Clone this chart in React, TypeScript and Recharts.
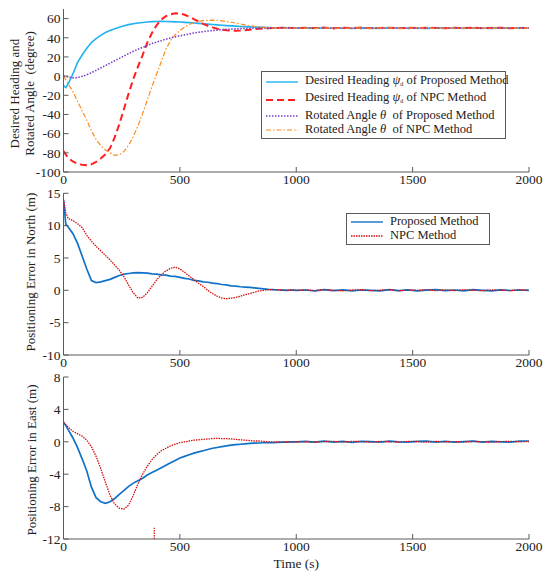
import { Legend, Line, LineChart, ReferenceLine, XAxis, YAxis } from "recharts";

const FONT = '"Liberation Serif", "Times New Roman", Times, serif';
const AXIS = "#5a5a5a";
const INK = "#222";

const COLORS = {
  cyan: "#22b2f0",
  red: "#ff1f1f",
  purple: "#7a3fc8",
  orange: "#ff8a1c",
  blue: "#1071c8",
  darkRed: "#d40f0f",
};

// time stamps (s): finer at the start, coarser once everything has settled
const TIME = [
  0, 10, 20, 40, 60, 80, 100, 120, 140, 160, 180, 200, 220, 240, 260, 280, 300, 320, 340, 360,
  380, 400, 420, 440, 460, 480, 500, 520, 540, 560, 580, 600, 620, 640, 660, 680, 700, 720, 740,
  760, 780, 800, 820, 840, 860, 880, 900, 920, 940, 960, 980, 1000,
  1040, 1080, 1120, 1160, 1200, 1240, 1280, 1320, 1360, 1400, 1440, 1480, 1520, 1560, 1600,
  1640, 1680, 1720, 1760, 1800, 1840, 1880, 1920, 1960, 2000,
];

const HEADING_PROPOSED = [
  -10, -12, -8, 2, 14, 22, 29, 35, 39, 42.5, 45.5, 47.5, 49.5, 51, 52.5, 53.7, 54.7, 55.4, 56, 56.5,
  56.8, 57, 57.1, 57, 56.8, 56.6, 56.4, 56.1, 55.8, 55.4, 55, 54.6, 54.2, 53.8, 53.4, 53, 52.7, 52.4, 52.1,
  51.8, 51.6, 51.4, 51.2, 51, 50.8, 50.7, 50.5, 50.4, 50.3, 50.2, 50.1, 50.1,
  50.3, 49.8, 50.4, 49.9, 50.2, 49.7, 50.3, 50, 49.8, 50.4, 49.9, 50.2, 50, 49.7, 50.3,
  49.9, 50.2, 49.8, 50.4, 50, 49.8, 50.3, 49.9, 50.2, 50,
];

const HEADING_NPC = [
  -78, -82, -85, -89, -91.5, -92.5, -93, -92, -89.5, -86, -81.5, -75, -64, -50, -34, -18, -3, 10, 22, 35,
  45, 53, 59, 62.5, 64.5, 65.5, 65.3, 64, 62, 59.5, 57, 54.5, 52.5, 50.8, 49.5, 48.5, 47.8, 47.4, 47.3,
  47.5, 47.9, 48.4, 48.9, 49.3, 49.6, 49.9, 50.1, 50.3, 50.4, 50.4, 50.3, 50.2,
  50.5, 50.1, 50.6, 49.9, 50.4, 50.2, 50.6, 49.9, 50.3, 50.5, 50, 50.4, 50.1, 50.5, 50.2,
  49.9, 50.4, 50.1, 50.5, 50, 50.3, 50.4, 49.9, 50.3, 50.1,
];

const ROTATED_PROPOSED = [
  0, -0.5, -1, -1.8, -1.5, -0.2, 1.5, 3.5, 6, 8.5, 11, 13.5, 16, 18.5, 21, 23.5, 26, 28, 30, 32,
  34, 35.5, 37, 38.5, 39.8, 41, 42, 43, 44, 44.9, 45.7, 46.4, 47, 47.5, 48, 48.4, 48.7, 49, 49.3,
  49.5, 49.7, 49.8, 49.9, 50, 50, 50, 50.1, 50, 50, 50.1, 50, 50,
  50.2, 49.9, 50.1, 49.8, 50.2, 50, 49.8, 50.2, 49.9, 50.1, 50.2, 49.8, 50, 50.2, 49.9,
  50.1, 49.8, 50.2, 50, 49.9, 50.2, 49.9, 50.1, 50, 50.1,
];

const ROTATED_NPC = [
  0, -4, -8, -16, -26, -36, -46, -57, -66, -72.5, -77, -80, -82.7, -82, -78.5, -72, -63, -52, -39, -25,
  -11, 2, 15, 28, 37, 43, 47.5, 51, 53.8, 55.7, 57, 57.8, 58.2, 58.3, 58.1, 57.6, 57, 56.2, 55.3,
  54.4, 53.5, 52.7, 52, 51.4, 50.9, 50.5, 50.2, 50, 49.9, 49.9, 50, 50,
  50.1, 49.7, 50.3, 49.8, 50.2, 49.9, 50.4, 49.8, 50.1, 50.3, 49.7, 50.2, 50, 50.3, 49.8,
  50.1, 50.2, 49.7, 50.3, 50, 49.8, 50.2, 50.1, 49.8, 50.2,
];

const NORTH_PROPOSED = [
  14, 10.2, 9.8, 8.8, 7.3, 5.3, 3.3, 1.5, 1.2, 1.3, 1.5, 1.7, 2, 2.3, 2.5, 2.6, 2.7, 2.75, 2.7, 2.65,
  2.55, 2.5, 2.4, 2.35, 2.2, 2.15, 2, 1.85, 1.75, 1.55, 1.45, 1.3, 1.25, 1.1, 1.05, 0.9, 0.85, 0.7, 0.65,
  0.55, 0.5, 0.45, 0.38, 0.3, 0.22, 0.15, 0.1, 0.05, 0.02, 0, 0.05, 0,
  0.05, -0.08, 0.1, -0.05, 0.08, -0.1, 0.05, 0, -0.08, 0.1, -0.05, 0.08, -0.1, 0.03, 0.1,
  -0.05, 0.05, -0.08, 0.1, 0, -0.1, 0.08, -0.03, 0.05, 0,
];

const NORTH_NPC = [
  14, 12, 11.1, 10.8, 10.3, 9.7, 8.5, 7.6, 6.8, 6.1, 5.4, 4.7, 3.9, 3.1, 2.1, 0.8, -0.4, -1.2, -1.1, -0.4,
  0.6, 1.6, 2.4, 3, 3.4, 3.6, 3.3, 2.8, 2.2, 1.7, 1.1, 0.6, 0, -0.5, -0.9, -1.2, -1.3, -1.2, -1.1,
  -0.9, -0.7, -0.5, -0.3, -0.1, 0, 0.1, 0.1, 0.1, 0.05, 0, 0.1, 0,
  0.08, -0.05, 0.1, 0, -0.08, 0.05, 0.1, -0.05, 0.03, 0.1, -0.08, 0.05, 0, 0.1, -0.05,
  0.08, -0.03, 0.1, 0, -0.05, 0.08, 0.03, -0.05, 0.1, 0,
];

const EAST_PROPOSED = [
  2.4, 2, 1.5, 0.5, -0.7, -2.1, -3.6, -5.6, -6.9, -7.4, -7.6, -7.4, -7, -6.5, -6, -5.5, -5.1, -4.8, -4.5, -4.1,
  -3.8, -3.5, -3.2, -2.9, -2.6, -2.3, -2, -1.8, -1.6, -1.4, -1.25, -1.1, -0.95, -0.8, -0.7, -0.6, -0.5, -0.42, -0.35,
  -0.3, -0.25, -0.2, -0.17, -0.15, -0.12, -0.1, -0.1, -0.08, -0.05, -0.05, 0, 0,
  0.05, -0.05, 0.08, -0.03, 0.05, -0.08, 0.05, 0.03, -0.05, 0.08, 0, -0.05, 0.05, 0.08, -0.03,
  0.05, -0.05, 0.03, 0.08, -0.03, 0.05, 0, -0.05, 0.08, 0.1,
];

const EAST_NPC = [
  2.4, 2.1, 1.8, 1.3, 1, 0.7, 0.2, -0.6, -1.8, -3.3, -5, -6.6, -7.7, -8.2, -8.3, -7.8, -6.6, -5.2, -4, -3,
  -2.2, -1.6, -1.1, -0.8, -0.5, -0.3, -0.1, 0, 0.1, 0.2, 0.25, 0.3, 0.35, 0.4, 0.42, 0.4, 0.4, 0.35, 0.3,
  0.25, 0.2, 0.15, 0.1, 0.1, 0.05, 0, 0, 0, -0.05, 0, -0.05, 0,
  0, -0.05, 0.03, 0.05, -0.03, 0.05, 0.03, -0.05, 0.05, 0, -0.03, 0.05, 0.03, -0.05, 0.05,
  0, 0.03, -0.03, 0.05, 0, -0.05, 0.03, 0.05, 0, 0.03,
];

const X_TICKS = [0, 500, 1000, 1500, 2000];
const ANGLE_TICKS = [-100, -80, -60, -40, -20, 0, 20, 40, 60];
const NORTH_TICKS = [-10, -5, 0, 5, 10, 15];
const EAST_TICKS = [-12, -8, -4, 0, 4, 8];

const rows = TIME.map((t, i) => ({
  t,
  headingProposed: HEADING_PROPOSED[i],
  headingNpc: HEADING_NPC[i],
  rotatedProposed: ROTATED_PROPOSED[i],
  rotatedNpc: ROTATED_NPC[i],
  northProposed: NORTH_PROPOSED[i],
  northNpc: NORTH_NPC[i],
  eastProposed: EAST_PROPOSED[i],
  eastNpc: EAST_NPC[i],
}));

const tickStyle = { fontFamily: FONT, fontSize: 13.5, fill: INK };

function SideTitle({ viewBox, lines, xs, shift = 0 }: any) {
  const cy = (viewBox?.y ?? 0) + (viewBox?.height ?? 0) / 2 + shift;
  return (
    <g>
      {lines.map((line: string, i: number) => (
        <text
          key={line}
          x={xs[i]}
          y={cy}
          transform={`rotate(-90 ${xs[i]} ${cy})`}
          textAnchor="middle"
          dominantBaseline="central"
          fontFamily={FONT}
          fontSize={13}
          fill={INK}
          style={{ whiteSpace: "pre" }}
        >
          {line}
        </text>
      ))}
    </g>
  );
}

function BottomTitle({ viewBox }: any) {
  const cx = (viewBox?.x ?? 0) + (viewBox?.width ?? 0) / 2;
  const y = (viewBox?.y ?? 0) + 24;
  return (
    <text x={cx} y={y} textAnchor="middle" dominantBaseline="central" fontFamily={FONT} fontSize={13.5} fill={INK}>
      Time (s)
    </text>
  );
}

function boxAxes(domain: number[], ticks: number[], title: any, showTime = false) {
  return [
    <XAxis
      key="xb"
      xAxisId="b"
      dataKey="t"
      type="number"
      domain={[0, 2000]}
      ticks={X_TICKS}
      interval={0}
      allowDataOverflow
      height={showTime ? 38 : 18}
      stroke={AXIS}
      tickSize={-5}
      tickMargin={7}
      tick={tickStyle}
      label={showTime ? <BottomTitle /> : undefined}
    />,
    <XAxis
      key="xt"
      xAxisId="t"
      dataKey="t"
      type="number"
      orientation="top"
      domain={[0, 2000]}
      ticks={X_TICKS}
      interval={0}
      height={0}
      stroke={AXIS}
      tickSize={-5}
      tick={false}
    />,
    <YAxis
      key="yl"
      yAxisId="l"
      type="number"
      domain={domain}
      ticks={ticks}
      interval={0}
      allowDataOverflow
      width={63.5}
      stroke={AXIS}
      tickSize={-5}
      tickMargin={8}
      tick={tickStyle}
      label={title}
    />,
    <YAxis
      key="yr"
      yAxisId="r"
      type="number"
      orientation="right"
      domain={domain}
      ticks={ticks}
      interval={0}
      width={0}
      stroke={AXIS}
      tickSize={-5}
      tick={false}
    />,
  ];
}

function LegendSample({ color, dash, width }: { color: string; dash?: string; width: number }) {
  return (
    <svg width={34} height={10} style={{ marginRight: 6, flex: "none" }}>
      <line x1={1} y1={5} x2={33} y2={5} stroke={color} strokeWidth={width} strokeDasharray={dash} />
    </svg>
  );
}

const psi = (
  <>
    <i>ψ</i>
    <sub style={{ fontSize: 6, verticalAlign: "-2px" }}>d</sub>
  </>
);
const theta = <i>θ</i>;

const angleLegend = [
  { color: COLORS.cyan, width: 1.4, label: <>Desired Heading {psi} of Proposed Method</> },
  { color: COLORS.red, width: 2, dash: "7 4", label: <>Desired Heading {psi} of NPC Method</> },
  { color: COLORS.purple, width: 1.6, dash: "1.5 1.5", label: <>Rotated Angle {theta}&nbsp; of Proposed Method</> },
  { color: COLORS.orange, width: 1.2, dash: "5 2 1.5 2", label: <>Rotated Angle {theta}&nbsp; of NPC Method</> },
];

const positionLegend = [
  { color: COLORS.blue, width: 1.4, label: <>Proposed Method</> },
  { color: COLORS.darkRed, width: 1.3, dash: "1.5 1", label: <>NPC Method</> },
];

function LegendBox({ items, width, pad }: { items: any[]; width: number; pad: number }) {
  return (
    <div
      style={{
        width,
        boxSizing: "border-box",
        border: `1px solid ${AXIS}`,
        background: "#fff",
        padding: `${pad}px 3px`,
        fontFamily: FONT,
        fontSize: 12.5,
        color: INK,
        lineHeight: "13.8px",
      }}
    >
      {items.map((item, i) => (
        <div key={i} style={{ display: "flex", alignItems: "center", whiteSpace: "nowrap" }}>
          <LegendSample color={item.color} dash={item.dash} width={item.width} />
          <span>{item.label}</span>
        </div>
      ))}
    </div>
  );
}

const W = 550;

export default function App() {
  return (
    <div style={{ position: "absolute", left: 0, top: 0, width: W, height: 577, background: "#fff", fontFamily: FONT }}>
      <style>{".recharts-surface { overflow: visible; }"}</style>
      <div style={{ position: "absolute", left: 0, top: 0 }}>
        <LineChart width={W} height={190} data={rows} margin={{ top: 9, right: 21, bottom: 0, left: 0 }}>
          {boxAxes([-100, 70], ANGLE_TICKS, (
            <SideTitle lines={["Desired Heading and", "Rotated Angle  (degree)"]} xs={[14, 29]} shift={3} />
          ))}
          <Line xAxisId="b" yAxisId="l" dataKey="headingProposed" stroke={COLORS.cyan} strokeWidth={1.6} dot={false} type="linear" isAnimationActive={false} />
          <Line xAxisId="b" yAxisId="l" dataKey="headingNpc" stroke={COLORS.red} strokeWidth={2} strokeDasharray="7 4" dot={false} type="linear" isAnimationActive={false} />
          <Line xAxisId="b" yAxisId="l" dataKey="rotatedProposed" stroke={COLORS.purple} strokeWidth={1.6} strokeDasharray="1.5 1.5" dot={false} type="linear" isAnimationActive={false} />
          <Line xAxisId="b" yAxisId="l" dataKey="rotatedNpc" stroke={COLORS.orange} strokeWidth={1.2} strokeDasharray="5 2 1.5 2" dot={false} type="linear" isAnimationActive={false} />
          <Legend
            layout="horizontal"
            verticalAlign="middle"
            align="center"
            wrapperStyle={{ position: "absolute", left: 261, top: 71, width: "auto" }}
            content={() => <LegendBox items={angleLegend} width={245} pad={1.5} />}
          />
        </LineChart>
      </div>

      <div style={{ position: "absolute", left: 0, top: 190 }}>
        <LineChart width={W} height={183} data={rows} margin={{ top: 3.3, right: 21, bottom: 0, left: 0 }}>
          {boxAxes([-10, 15], NORTH_TICKS, <SideTitle lines={["Positioning Error in North (m)"]} xs={[31]} shift={-2} />)}
          <Line xAxisId="b" yAxisId="l" dataKey="northProposed" stroke={COLORS.blue} strokeWidth={1.7} dot={false} type="linear" isAnimationActive={false} />
          <Line xAxisId="b" yAxisId="l" dataKey="northNpc" stroke={COLORS.darkRed} strokeWidth={1.3} strokeDasharray="1.5 1" dot={false} type="linear" isAnimationActive={false} />
          <Legend
            layout="horizontal"
            verticalAlign="middle"
            align="center"
            wrapperStyle={{ position: "absolute", left: 346, top: 23, width: "auto" }}
            content={() => <LegendBox items={positionLegend} width={144} pad={1} />}
          />
        </LineChart>
      </div>

      <div style={{ position: "absolute", left: 0, top: 373 }}>
        <LineChart width={W} height={204} data={rows} margin={{ top: 4, right: 21, bottom: 0, left: 0 }}>
          {boxAxes([-12, 8], EAST_TICKS, <SideTitle lines={["Positioning Error in East (m)"]} xs={[31]} shift={2} />, true)}
          <Line xAxisId="b" yAxisId="l" dataKey="eastProposed" stroke={COLORS.blue} strokeWidth={1.7} dot={false} type="linear" isAnimationActive={false} />
          <Line xAxisId="b" yAxisId="l" dataKey="eastNpc" stroke={COLORS.darkRed} strokeWidth={1.3} strokeDasharray="1.5 1" dot={false} type="linear" isAnimationActive={false} />
          <ReferenceLine
            xAxisId="b"
            yAxisId="l"
            segment={[{ x: 390, y: -12 }, { x: 390, y: -10.6 }]}
            stroke={COLORS.darkRed}
            strokeWidth={1.2}
            strokeDasharray="1.5 1"
          />
        </LineChart>
      </div>
    </div>
  );
}
